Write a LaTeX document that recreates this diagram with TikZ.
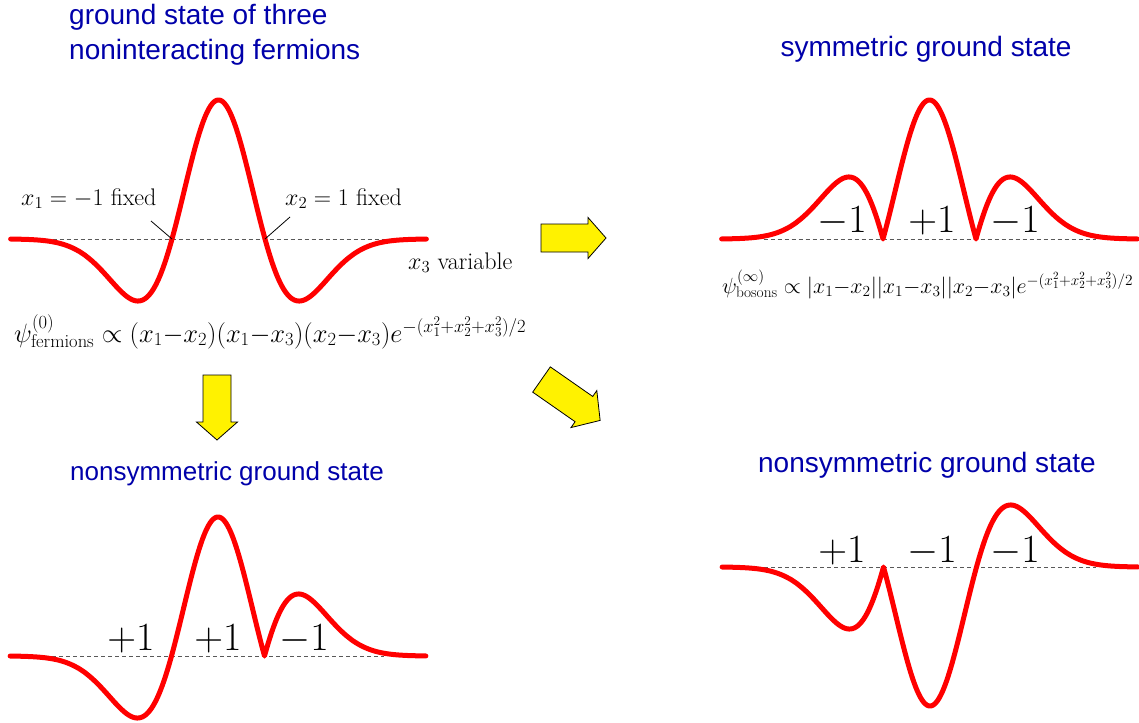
\RequirePackage{fix-cm}
\documentclass[tikz,border=0pt]{standalone}
\usepackage{fontspec}
\newfontfamily\titlefont{Liberation Sans}
\definecolor{titleblue}{RGB}{0,0,170}
\definecolor{wavered}{RGB}{255,0,0}
\tikzset{
  wave/.style={draw=wavered, line width=5pt, line join=round, line cap=round},
  axisline/.style={draw=black!65, line width=1pt, dash pattern=on 4pt off 3pt},
  ttl/.style={text=titleblue, font=\titlefont\fontsize{28}{33}\selectfont, inner sep=0pt},
  lbl/.style={font=\fontsize{24}{28}\selectfont, inner sep=0pt},
  sgn/.style={font=\fontsize{40}{44}\selectfont, inner sep=0pt, anchor=base},
  pointer/.style={draw=black, line width=0.8pt},
  arrowfill/.style={fill=yellow, draw=black, line width=0.8pt, line join=miter},
  blockarrow/.pic={\path[arrowfill] (0,-14) -- (47,-14) -- (47,-20.5) -- (65,0) -- (47,20.5) -- (47,14) -- (0,14) -- cycle;},
  declare function={ff(\t)=(1-\t*\t)*exp(-\t*\t/2);}
}
\newcommand\wavecurve[5]{%
  \draw[axisline] ({#1-166},#2) -- ({#1+166},#2);
  \draw[wave] plot[domain=-4.47:-1,samples=90] ({#1+46.5*\x},{#2-#3*139*ff(\x)})
    -- plot[domain=-1:1,samples=70] ({#1+46.5*\x},{#2-#4*139*ff(\x)})
    -- plot[domain=1:4.47,samples=90] ({#1+46.5*\x},{#2-#5*139*ff(\x)});}
\begin{document}
\begin{tikzpicture}[x=1pt,y=-1pt]
\useasboundingbox (0,0) rectangle (1139,722);
\fill[white] (0,0) rectangle (1139,722);

% titles
\node[ttl, anchor=base west] (t1a) at (69,25) {ground state of three};
\node[ttl, anchor=base west] (t1b) at (69,60) {noninteracting fermions};
\node[ttl, anchor=base] (t2) at (926,57) {symmetric ground state};
\node[ttl, anchor=base west, font=\titlefont\fontsize{26}{30}\selectfont] (t3) at (70,480) {nonsymmetric ground state};
\node[ttl, anchor=base] (t4) at (927,472) {nonsymmetric ground state};

% curves
\wavecurve{218.5}{239}{1}{1}{1}
\wavecurve{929.5}{239}{-1}{1}{-1}
\wavecurve{218}{656}{1}{1}{-1}
\wavecurve{930}{567}{1}{-1}{-1}

% fermion labels
\node[lbl, anchor=base west] (lx1) at (21,205) {$x_1=-1$ fixed};
\node[lbl, anchor=base west] (lx2) at (285,205) {$x_2=1$ fixed};
\node[lbl, anchor=base west] (lx3) at (408,269) {$x_3$ variable};
\coordinate (z1) at (172,239);
\coordinate (z2) at (265,239);
\coordinate (p1) at (151,221);
\coordinate (p2) at (290,217);
\draw[pointer] (p1) -- (z1);
\draw[pointer] (p2) -- (z2);

% formulas
\node[lbl, anchor=base west, font=\fontsize{26.5}{30}\selectfont] (fermi) at (14,342)
  {$\psi^{(0)}_{\rm fermions}\propto (x_1{-}x_2)(x_1{-}x_3)(x_2{-}x_3)e^{-(x_1^2+x_2^2+x_3^2)/2}$};
\node[lbl, anchor=base west, font=\fontsize{22}{26}\selectfont] (boso) at (722,293)
  {$\psi^{(\infty)}_{\rm bosons}\propto |x_1{-}x_2||x_1{-}x_3||x_2{-}x_3|e^{-(x_1^2+x_2^2+x_3^2)/2}$};

% sign labels
\node[sgn] (s1) at (842,232) {$-1$};
\node[sgn] (s2) at (932,232) {$+1$};
\node[sgn] (s3) at (1015,232) {$-1$};
\node[sgn] (s4) at (131,650) {$+1$};
\node[sgn] (s5) at (218,650) {$+1$};
\node[sgn] (s6) at (304,650) {$-1$};
\node[sgn] (s7) at (842,562) {$+1$};
\node[sgn] (s8) at (932,562) {$-1$};
\node[sgn] (s9) at (1015,562) {$-1$};

% block arrows
\pic at (541,238) {blockarrow};
\pic[rotate=-90] at (217,375) {blockarrow};
\pic[rotate=-34.9, scale=1.1] at (541.5,379.5) {blockarrow};
\end{tikzpicture}
\end{document}
